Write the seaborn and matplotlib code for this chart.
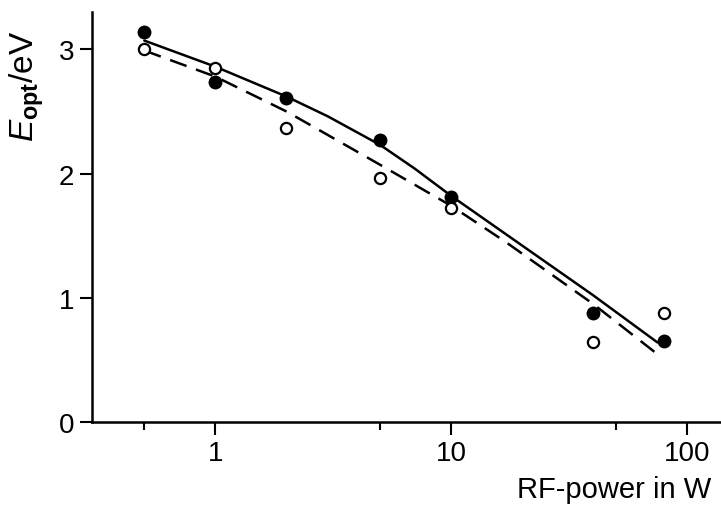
"""
RF-power dependence of the optical gap E_opt
"""
import matplotlib
matplotlib.use("Agg")
import matplotlib.pyplot as plt
import seaborn as sns

# measured points
power = [0.5, 1, 2, 5, 10, 40, 80]
e_filled = [3.14, 2.74, 2.61, 2.27, 1.81, 0.88, 0.65]
e_open = [3.00, 2.85, 2.37, 1.96, 1.72, 0.64, 0.88]

# fitted curves
solid_power = [0.5, 1, 2, 3, 5, 7, 10, 20, 40, 75]
solid_e = [3.07, 2.86, 2.62, 2.46, 2.23, 2.04, 1.82, 1.42, 1.02, 0.64]
dashed_power = [0.5, 1, 2, 3, 5, 7, 10, 17, 40, 78]
dashed_e = [2.99, 2.78, 2.50, 2.31, 2.07, 1.91, 1.74, 1.45, 0.95, 0.52]

x_ticks = [1, 10, 100]
x_minor = [0.5, 5, 50]
y_ticks = [0, 1, 2, 3]

sns.set_style("ticks")
plt.rcParams['font.family'] = ['Liberation Sans', 'DejaVu Sans']
plt.rcParams['mathtext.fontset'] = 'custom'
plt.rcParams['mathtext.rm'] = 'Liberation Sans'
plt.rcParams['mathtext.it'] = 'Liberation Sans:italic'
plt.rcParams['mathtext.bf'] = 'Liberation Sans:bold'
plt.rcParams['text.color'] = 'black'
plt.rcParams['axes.edgecolor'] = 'black'
plt.rcParams['xtick.color'] = 'black'
plt.rcParams['ytick.color'] = 'black'

fig = plt.figure(figsize=(7.21, 5.06), dpi=100)
ax = fig.add_axes([92 / 721, 83 / 506, 628 / 721, 410 / 506])

sns.lineplot(x=solid_power, y=solid_e, ax=ax, color='black', linewidth=1.8)
sns.lineplot(x=dashed_power, y=dashed_e, ax=ax, color='black', linewidth=1.8)
ax.lines[-1].set_dashes((7, 4))

sns.scatterplot(x=power, y=e_filled, ax=ax, color='black', s=100, linewidth=0, zorder=3)
sns.scatterplot(x=power, y=e_open, ax=ax, color='white', edgecolor='black',
                s=65, linewidth=1.6, zorder=3)

ax.set_xscale('log')
ax.set_xlim(0.30, 138)
ax.set_ylim(0, 3.30)
ax.set_xticks(x_ticks)
ax.set_xticklabels([str(t) for t in x_ticks])
ax.set_xticks(x_minor, minor=True)
ax.set_xticklabels([], minor=True)
ax.set_yticks(y_ticks)
ax.set_yticklabels([str(t) for t in y_ticks])

sns.despine(ax=ax)
for side in ['left', 'bottom']:
    ax.spines[side].set_linewidth(1.8)
ax.tick_params(axis='both', which='major', length=9, width=1.5, labelsize=20, pad=4,
               labelcolor='black')
ax.tick_params(axis='x', which='minor', length=6, width=1.5)

fig.text(711 / 721, 1 - 498 / 506, 'RF-power in W', ha='right', va='baseline', fontsize=21)
fig.text(27 / 721, 1 - 86 / 506, r'$E_{\mathbf{opt}}$/eV', rotation=90,
         ha='center', va='center', fontsize=24)

fig.savefig('out.png', dpi=100, facecolor='white')
plt.close(fig)
